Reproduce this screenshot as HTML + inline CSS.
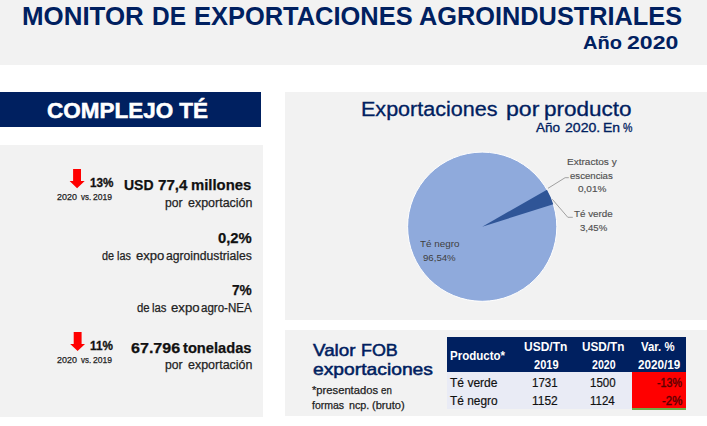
<!DOCTYPE html>
<html><head><meta charset="utf-8"><style>
html,body{margin:0;padding:0;background:#fff;width:707px;height:426px;overflow:hidden;position:relative}
body{font-family:'Liberation Sans', sans-serif}
.b{position:absolute}
.t{position:absolute;white-space:nowrap;line-height:normal;transform-origin:0 0}
</style></head><body>
<div class="b" style="left:0;top:0;width:707px;height:65px;background:#f2f2f2"></div>
<div class="b" style="left:0;top:92px;width:261px;height:35px;background:#002060"></div>
<div class="b" style="left:0;top:145px;width:263px;height:272px;background:#f2f2f2"></div>
<div class="b" style="left:285px;top:92px;width:422px;height:228px;background:#f2f2f2"></div>
<div class="b" style="left:285px;top:329.5px;width:422px;height:86.5px;background:#f2f2f2"></div>
<div class="b" style="left:447px;top:371px;width:239px;height:38px;background:#e9ebf5"></div>
<div class="b" style="left:632px;top:371px;width:54px;height:36.8px;background:#ff0000"></div>
<div class="b" style="left:632px;top:407.6px;width:54px;height:2px;background:#70ad47"></div>
<div class="b" style="left:447px;top:337px;width:239px;height:34.5px;background:#002060"></div>
<svg width="707" height="426" style="position:absolute;left:0;top:0">
<circle cx="482.2" cy="226.7" r="74.6" fill="#8faadc" stroke="#ffffff" stroke-width="1"/>
<path d="M482.2,226.7 L553.31,204.14 A74.6,74.6 0 0 0 546.94,189.63 Z" fill="#2f5597"/>
<polyline points="548,188.3 565.1,177.7 568.8,177.7" fill="none" stroke="#a0a0a0" stroke-width="1"/>
<polyline points="552.3,199.3 567.8,217.3 572.8,217.3" fill="none" stroke="#a0a0a0" stroke-width="1"/>
<polygon points="73.1,169.1 81,169.1 81,181.1 84.7,181.1 77.1,188.3 69.6,181.1 73.1,181.1" fill="#ff0000"/>
<polygon points="73.7,332.1 81.6,332.1 81.6,344.1 85,344.1 77.6,350.9 70.2,344.1 73.7,344.1" fill="#ff0000"/>
</svg>
<div class="t" style="left:21.75px;top:1.90px;font-weight:700;font-size:25.3px;color:#002060;transform:scaleX(1.0233);">MONITOR</div>
<div class="t" style="left:152.37px;top:1.90px;font-weight:700;font-size:25.3px;color:#002060;transform:scaleX(0.9656);">DE</div>
<div class="t" style="left:193.99px;top:1.90px;font-weight:700;font-size:25.3px;color:#002060;transform:scaleX(1.0056);">EXPORTACIONES</div>
<div class="t" style="left:419.20px;top:1.90px;font-weight:700;font-size:25.3px;color:#002060;transform:scaleX(1.0011);">AGROINDUSTRIALES</div>
<div class="t" style="left:582.94px;top:32.30px;font-weight:700;font-size:19px;color:#002060;transform:scaleX(1.0571);">Año</div>
<div class="t" style="left:627.49px;top:32.30px;font-weight:700;font-size:19px;color:#002060;transform:scaleX(1.2146);">2020</div>
<div class="t" style="left:47.00px;top:99.20px;font-weight:700;font-size:21.3px;color:#ffffff;transform:scaleX(1.0553);-webkit-text-stroke:0.5px #ffffff;">COMPLEJO TÉ</div>
<div class="t" style="left:89.70px;top:175.90px;font-weight:700;font-size:12.2px;color:#111111;transform:scaleX(0.9625);-webkit-text-stroke:0.3px #111111;">13%</div>
<div class="t" style="left:57.40px;top:191.60px;font-weight:400;font-size:8.8px;color:#222222;transform:scaleX(1.0150);-webkit-text-stroke:0.25px #222222;">2020</div>
<div class="t" style="left:80.50px;top:191.60px;font-weight:400;font-size:8.8px;color:#222222;transform:scaleX(0.9000);-webkit-text-stroke:0.25px #222222;">vs.</div>
<div class="t" style="left:93.40px;top:191.60px;font-weight:400;font-size:8.8px;color:#222222;transform:scaleX(0.9700);-webkit-text-stroke:0.25px #222222;">2019</div>
<div class="t" style="left:123.59px;top:175.90px;font-weight:700;font-size:15.4px;color:#111111;transform:scaleX(0.9097);-webkit-text-stroke:0.25px #111111;">USD</div>
<div class="t" style="left:158.10px;top:175.90px;font-weight:700;font-size:15.4px;color:#111111;transform:scaleX(0.9833);-webkit-text-stroke:0.25px #111111;">77,4</div>
<div class="t" style="left:191.43px;top:175.90px;font-weight:700;font-size:15.4px;color:#111111;transform:scaleX(0.9656);-webkit-text-stroke:0.25px #111111;">millones</div>
<div class="t" style="left:165.15px;top:194.70px;font-weight:400;font-size:12.8px;color:#222222;transform:scaleX(0.9500);-webkit-text-stroke:0.25px #222222;">por</div>
<div class="t" style="left:187.80px;top:194.70px;font-weight:400;font-size:12.8px;color:#222222;transform:scaleX(0.9742);-webkit-text-stroke:0.25px #222222;">exportación</div>
<div class="t" style="left:217.90px;top:228.90px;font-weight:700;font-size:15.3px;color:#111111;transform:scaleX(0.9686);-webkit-text-stroke:0.25px #111111;">0,2%</div>
<div class="t" style="left:102.00px;top:248.90px;font-weight:400;font-size:12.5px;color:#222222;transform:scaleX(0.8643);-webkit-text-stroke:0.25px #222222;">de</div>
<div class="t" style="left:117.23px;top:248.90px;font-weight:400;font-size:12.5px;color:#222222;transform:scaleX(0.8667);-webkit-text-stroke:0.25px #222222;">las</div>
<div class="t" style="left:135.70px;top:248.90px;font-weight:400;font-size:12.5px;color:#222222;transform:scaleX(1.0481);-webkit-text-stroke:0.25px #222222;">expo</div>
<div class="t" style="left:166.00px;top:248.90px;font-weight:400;font-size:12.5px;color:#222222;transform:scaleX(0.9727);-webkit-text-stroke:0.25px #222222;">agroindustriales</div>
<div class="t" style="left:231.90px;top:280.70px;font-weight:700;font-size:15px;color:#111111;transform:scaleX(0.9136);-webkit-text-stroke:0.25px #111111;">7%</div>
<div class="t" style="left:137.10px;top:300.80px;font-weight:400;font-size:12.5px;color:#222222;transform:scaleX(0.9071);-webkit-text-stroke:0.25px #222222;">de</div>
<div class="t" style="left:151.89px;top:300.80px;font-weight:400;font-size:12.5px;color:#222222;transform:scaleX(0.9067);-webkit-text-stroke:0.25px #222222;">las</div>
<div class="t" style="left:171.20px;top:300.80px;font-weight:400;font-size:12.5px;color:#222222;transform:scaleX(1.0556);-webkit-text-stroke:0.25px #222222;">expo</div>
<div class="t" style="left:201.20px;top:300.80px;font-weight:400;font-size:12.5px;color:#222222;transform:scaleX(0.9236);-webkit-text-stroke:0.25px #222222;">agro-NEA</div>
<div class="t" style="left:89.70px;top:339.20px;font-weight:700;font-size:12.2px;color:#111111;transform:scaleX(0.9625);-webkit-text-stroke:0.3px #111111;">11%</div>
<div class="t" style="left:57.40px;top:354.90px;font-weight:400;font-size:8.8px;color:#222222;transform:scaleX(1.0150);-webkit-text-stroke:0.25px #222222;">2020</div>
<div class="t" style="left:80.50px;top:354.90px;font-weight:400;font-size:8.8px;color:#222222;transform:scaleX(0.9000);-webkit-text-stroke:0.25px #222222;">vs.</div>
<div class="t" style="left:93.40px;top:354.90px;font-weight:400;font-size:8.8px;color:#222222;transform:scaleX(0.9700);-webkit-text-stroke:0.25px #222222;">2019</div>
<div class="t" style="left:130.50px;top:338.90px;font-weight:700;font-size:15.1px;color:#111111;transform:scaleX(1.0652);-webkit-text-stroke:0.25px #111111;">67.796</div>
<div class="t" style="left:183.40px;top:338.90px;font-weight:700;font-size:15.1px;color:#111111;transform:scaleX(0.9714);-webkit-text-stroke:0.25px #111111;">toneladas</div>
<div class="t" style="left:165.15px;top:357.40px;font-weight:400;font-size:12.8px;color:#222222;transform:scaleX(0.9500);-webkit-text-stroke:0.25px #222222;">por</div>
<div class="t" style="left:187.80px;top:357.40px;font-weight:400;font-size:12.8px;color:#222222;transform:scaleX(0.9742);-webkit-text-stroke:0.25px #222222;">exportación</div>
<div class="t" style="left:361.10px;top:98.10px;font-weight:400;font-size:19.6px;color:#002060;transform:scaleX(1.0992);-webkit-text-stroke:0.3px #002060;">Exportaciones</div>
<div class="t" style="left:506.22px;top:98.10px;font-weight:400;font-size:19.6px;color:#002060;transform:scaleX(1.1778);-webkit-text-stroke:0.3px #002060;">por</div>
<div class="t" style="left:544.45px;top:98.10px;font-weight:400;font-size:19.6px;color:#002060;transform:scaleX(1.1480);-webkit-text-stroke:0.3px #002060;">producto</div>
<div class="t" style="left:535.90px;top:120.50px;font-weight:400;font-size:12px;color:#002060;transform:scaleX(1.1286);-webkit-text-stroke:0.3px #002060;">Año</div>
<div class="t" style="left:564.50px;top:120.50px;font-weight:400;font-size:12px;color:#002060;transform:scaleX(1.1724);-webkit-text-stroke:0.3px #002060;">2020.</div>
<div class="t" style="left:603.24px;top:120.50px;font-weight:400;font-size:12px;color:#002060;transform:scaleX(1.1615);-webkit-text-stroke:0.3px #002060;">En</div>
<div class="t" style="left:623.00px;top:120.50px;font-weight:400;font-size:12px;color:#002060;transform:scaleX(0.8818);-webkit-text-stroke:0.3px #002060;">%</div>
<div class="t" style="left:566.56px;top:156.20px;font-weight:400;font-size:9.7px;color:#505050;transform:scaleX(1.0362);-webkit-text-stroke:0.15px #505050;">Extractos y</div>
<div class="t" style="left:570.20px;top:169.50px;font-weight:400;font-size:9.7px;color:#505050;transform:scaleX(0.9930);-webkit-text-stroke:0.15px #505050;">escencias</div>
<div class="t" style="left:577.60px;top:183.30px;font-weight:400;font-size:9.7px;color:#505050;transform:scaleX(1.0333);-webkit-text-stroke:0.15px #505050;">0,01%</div>
<div class="t" style="left:574.40px;top:208.20px;font-weight:400;font-size:9.7px;color:#505050;transform:scaleX(1.0132);-webkit-text-stroke:0.15px #505050;">Té verde</div>
<div class="t" style="left:579.70px;top:222.00px;font-weight:400;font-size:9.7px;color:#505050;transform:scaleX(0.9926);-webkit-text-stroke:0.15px #505050;">3,45%</div>
<div class="t" style="left:420.10px;top:237.90px;font-weight:400;font-size:9.4px;color:#404040;transform:scaleX(1.0514);">Té negro</div>
<div class="t" style="left:423.10px;top:252.00px;font-weight:400;font-size:9.4px;color:#404040;transform:scaleX(1.0281);">96,54%</div>
<div class="t" style="left:313.00px;top:341.30px;font-weight:400;font-size:16.6px;color:#002060;transform:scaleX(1.1342);-webkit-text-stroke:0.5px #002060;">Valor</div>
<div class="t" style="left:361.42px;top:341.30px;font-weight:400;font-size:16.6px;color:#002060;transform:scaleX(1.0788);-webkit-text-stroke:0.5px #002060;">FOB</div>
<div class="t" style="left:313.00px;top:360.20px;font-weight:400;font-size:16.6px;color:#002060;transform:scaleX(1.1612);-webkit-text-stroke:0.5px #002060;">exportaciones</div>
<div class="t" style="left:312.00px;top:383.80px;font-weight:400;font-size:10.8px;color:#222222;transform:scaleX(1.0375);-webkit-text-stroke:0.25px #222222;">*presentados</div>
<div class="t" style="left:380.90px;top:383.80px;font-weight:400;font-size:10.8px;color:#222222;transform:scaleX(0.9000);-webkit-text-stroke:0.25px #222222;">en</div>
<div class="t" style="left:312.00px;top:398.70px;font-weight:400;font-size:10.8px;color:#222222;transform:scaleX(0.9727);-webkit-text-stroke:0.25px #222222;">formas</div>
<div class="t" style="left:348.70px;top:398.70px;font-weight:400;font-size:10.8px;color:#222222;transform:scaleX(0.9950);-webkit-text-stroke:0.25px #222222;">ncp.</div>
<div class="t" style="left:371.50px;top:398.70px;font-weight:400;font-size:10.8px;color:#222222;transform:scaleX(1.0281);-webkit-text-stroke:0.25px #222222;">(bruto)</div>
<div class="t" style="left:449.97px;top:349.20px;font-weight:700;font-size:12.4px;color:#ffffff;transform:scaleX(0.9293);">Producto*</div>
<div class="t" style="left:524.08px;top:339.00px;font-weight:700;font-size:13px;color:#ffffff;transform:scaleX(0.9222);">USD/Tn</div>
<div class="t" style="left:534.00px;top:357.20px;font-weight:700;font-size:13px;color:#ffffff;transform:scaleX(0.8483);">2019</div>
<div class="t" style="left:582.20px;top:339.00px;font-weight:700;font-size:13px;color:#ffffff;transform:scaleX(0.9044);">USD/Tn</div>
<div class="t" style="left:592.10px;top:356.80px;font-weight:700;font-size:13px;color:#ffffff;transform:scaleX(0.8138);">2020</div>
<div class="t" style="left:640.90px;top:339.00px;font-weight:700;font-size:13px;color:#ffffff;transform:scaleX(0.8763);">Var. %</div>
<div class="t" style="left:637.60px;top:356.80px;font-weight:700;font-size:13px;color:#ffffff;transform:scaleX(0.9021);">2020/19</div>
<div class="t" style="left:450.00px;top:374.80px;font-weight:400;font-size:12.8px;color:#111111;transform:scaleX(0.9400);-webkit-text-stroke:0.2px #111111;">Té verde</div>
<div class="t" style="left:450.00px;top:392.70px;font-weight:400;font-size:12.8px;color:#111111;transform:scaleX(0.9294);-webkit-text-stroke:0.2px #111111;">Té negro</div>
<div class="t" style="left:531.80px;top:375.00px;font-weight:400;font-size:12.8px;color:#111111;transform:scaleX(0.9000);-webkit-text-stroke:0.2px #111111;">1731</div>
<div class="t" style="left:590.00px;top:375.00px;font-weight:400;font-size:12.8px;color:#111111;transform:scaleX(0.9000);-webkit-text-stroke:0.2px #111111;">1500</div>
<div class="t" style="left:657.00px;top:374.60px;font-weight:400;font-size:12.8px;color:#5a0000;transform:scaleX(0.8367);-webkit-text-stroke:0.4px #5a0000;">-13%</div>
<div class="t" style="left:531.77px;top:392.60px;font-weight:400;font-size:12.8px;color:#111111;transform:scaleX(0.9346);-webkit-text-stroke:0.2px #111111;">1152</div>
<div class="t" style="left:590.00px;top:392.60px;font-weight:400;font-size:12.8px;color:#111111;transform:scaleX(0.9000);-webkit-text-stroke:0.2px #111111;">1124</div>
<div class="t" style="left:661.50px;top:392.60px;font-weight:400;font-size:12.8px;color:#5a0000;transform:scaleX(0.8913);-webkit-text-stroke:0.4px #5a0000;">-2%</div>
</body></html>
